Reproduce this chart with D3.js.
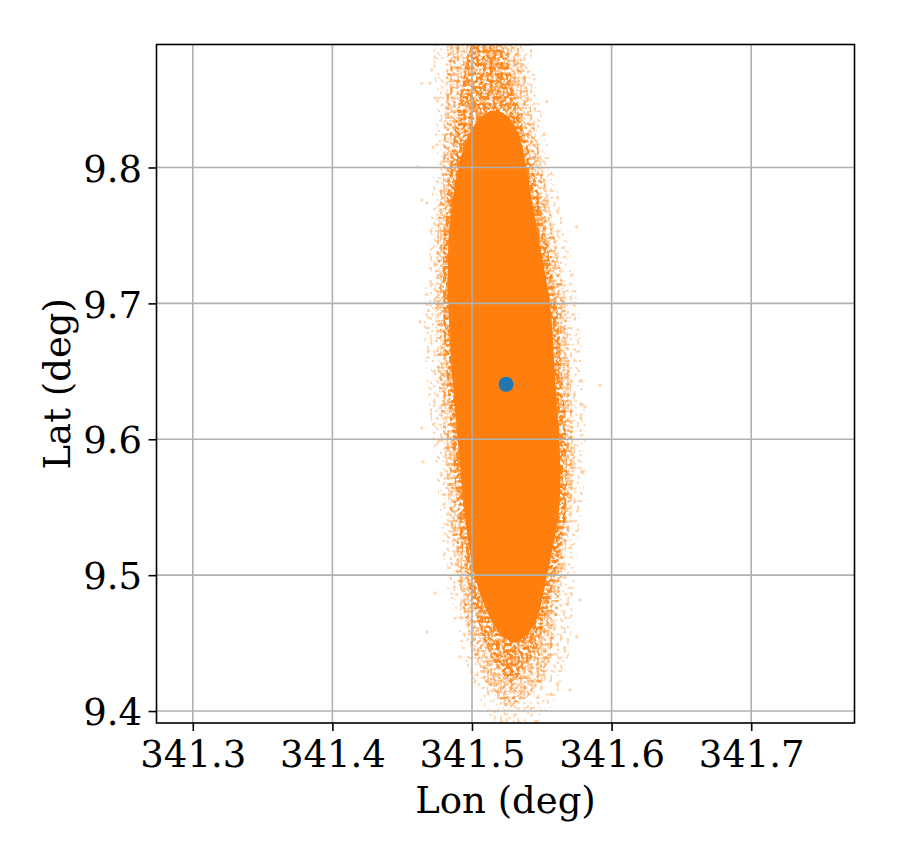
<!DOCTYPE html>
<html>
<head>
<meta charset="utf-8">
<script src="https://cdn.jsdelivr.net/npm/d3@7"></script>
<style>
  body { margin: 0; background: #ffffff; }
  text { font-family: "DejaVu Serif", serif; }
</style>
</head>
<body>
<svg id="chart" width="900" height="858"></svg>
<script>
// ---------------- data ----------------
const lonTicks = [341.3, 341.4, 341.5, 341.6, 341.7];
const latTicks = [9.4, 9.5, 9.6, 9.7, 9.8];
const lonDomain = [341.274, 341.774];
const latDomain = [9.3912, 9.8905];

// best-fit location (blue marker)
const bestLon = [341.5244];
const bestLat = [9.6404];

// orange sample cloud: outer (sparse) envelope
const outerLat  = [9.93, 9.90, 9.85, 9.80, 9.75, 9.70, 9.65, 9.60, 9.55, 9.50, 9.45, 9.42, 9.40, 9.385];
const outerWest = [341.476, 341.470, 341.4756, 341.4721, 341.4699, 341.4649, 341.4663, 341.4721, 341.4771, 341.4792, 341.4914, 341.500, 341.510, 341.522];
const outerEast = [341.536, 341.542, 341.5466, 341.5580, 341.5680, 341.5773, 341.5788, 341.5824, 341.5795, 341.5723, 341.5723, 341.565, 341.556, 341.540];

// medium-density envelope
const midLat  = [9.93, 9.90, 9.85, 9.80, 9.75, 9.70, 9.65, 9.60, 9.55, 9.50, 9.45, 9.42, 9.40];
const midWest = [341.485, 341.482, 341.481, 341.479, 341.4745, 341.4735, 341.4750, 341.4800, 341.4835, 341.4880, 341.4990, 341.5080, 341.527];
const midEast = [341.532, 341.534, 341.540, 341.551, 341.5590, 341.5680, 341.5700, 341.5735, 341.5725, 341.5640, 341.5590, 341.5530, 341.527];

// dense envelope around the core
const denseLat  = [9.905, 9.895, 9.87, 9.83, 9.80, 9.75, 9.70, 9.65, 9.60, 9.55, 9.50, 9.47, 9.44, 9.42];
const denseWest = [341.509, 341.500, 341.494, 341.488, 341.484, 341.479, 341.479, 341.481, 341.486, 341.489, 341.495, 341.503, 341.512, 341.528];
const denseEast = [341.511, 341.521, 341.528, 341.535, 341.545, 341.552, 341.562, 341.564, 341.568, 341.569, 341.560, 341.553, 341.546, 341.528];

// saturated core
const coreLat  = [9.842, 9.838, 9.825, 9.80, 9.75, 9.70, 9.65, 9.60, 9.55, 9.50, 9.48, 9.465, 9.455, 9.451];
const coreWest = [341.514, 341.506, 341.497, 341.4893, 341.4821, 341.4828, 341.4850, 341.4900, 341.4936, 341.5007, 341.508, 341.514, 341.521, 341.528];
const coreEast = [341.518, 341.527, 341.534, 341.5394, 341.5466, 341.5573, 341.5587, 341.5630, 341.5644, 341.5537, 341.550, 341.546, 341.539, 341.532];

// isolated outlying samples
const strayLon = [341.4711, 341.4640, 341.4699, 341.4735, 341.4640, 341.4676, 341.4721, 341.5535, 341.5750, 341.4613,
                  341.5917, 341.4628, 341.4649, 341.5810, 341.5795, 341.4640, 341.4676, 341.4735, 341.5774, 341.5750,
                  341.5702, 341.4914, 341.5249];
const strayLat = [9.8717, 9.8619, 9.8622, 9.8511, 9.7761, 9.7739, 9.8151, 9.8484, 9.7564, 9.8004,
                  9.6399, 9.6865, 9.5835, 9.6240, 9.5752, 9.6083, 9.4584, 9.4869, 9.4817, 9.4547,
                  9.4155, 9.4400, 9.3934];

// ---------------- drawing ----------------
const ORANGE = "#ff7f0e", BLUE = "#1f77b4", GRID = "#b0b0b0";
const FS = 37;
const plot = { left: 156.5, right: 854.5, top: 44.5, bottom: 723 };

const svg = d3.select("#chart");
const x = d3.scaleLinear().domain(lonDomain).range([plot.left, plot.right]);
const y = d3.scaleLinear().domain(latDomain).range([plot.bottom, plot.top]);

svg.append("rect").attr("width", 900).attr("height", 858).attr("fill", "#fff");

const defs = svg.append("defs");
defs.append("clipPath").attr("id", "plotclip")
  .append("rect")
  .attr("x", plot.left).attr("y", plot.top)
  .attr("width", plot.right - plot.left).attr("height", plot.bottom - plot.top);

// point-like speckle texture (styling only)
function speckle(id, freq, seed, thr) {
  const slope = 14;
  const f = defs.append("filter").attr("id", id)
    .attr("filterUnits", "userSpaceOnUse")
    .attr("x", plot.left).attr("y", plot.top)
    .attr("width", plot.right - plot.left).attr("height", plot.bottom - plot.top)
    .attr("color-interpolation-filters", "sRGB");
  f.append("feTurbulence").attr("type", "fractalNoise")
    .attr("baseFrequency", freq).attr("numOctaves", 1).attr("seed", seed).attr("result", "n");
  f.append("feColorMatrix").attr("in", "n").attr("type", "matrix")
    .attr("values", `0 0 0 0 0  0 0 0 0 0  0 0 0 0 0  ${slope} 0 0 0 ${-slope * thr}`)
    .attr("result", "m");
  f.append("feComposite").attr("in", "SourceGraphic").attr("in2", "m").attr("operator", "in");
}
speckle("spkA", 0.30, 3, 0.56);
speckle("spkB", 0.30, 11, 0.53);
speckle("spkC", 0.30, 27, 0.52);
speckle("spkD", 0.30, 41, 0.46);

const band = (lat, w, e) => lat.map((v, i) => ({ lat: v, w: w[i], e: e[i] }));
const area = d3.area()
  .y(d => y(d.lat)).x0(d => x(d.w)).x1(d => x(d.e))
  .curve(d3.curveBasis);

const cloud = svg.append("g").attr("clip-path", "url(#plotclip)");
const outer = band(outerLat, outerWest, outerEast);
const mid = band(midLat, midWest, midEast);
const dense = band(denseLat, denseWest, denseEast);
const core = band(coreLat, coreWest, coreEast);

cloud.selectAll("circle.stray").data(strayLon).join("circle")
  .attr("class", "stray")
  .attr("cx", d => x(d)).attr("cy", (d, i) => y(strayLat[i]))
  .attr("r", 1.7).attr("fill", ORANGE).attr("opacity", 0.3);

cloud.append("path").attr("d", area(outer)).attr("fill", ORANGE)
  .attr("filter", "url(#spkA)").attr("opacity", 0.32);
cloud.append("path").attr("d", area(mid)).attr("fill", ORANGE)
  .attr("filter", "url(#spkB)").attr("opacity", 0.45);
cloud.append("path").attr("d", area(mid)).attr("fill", ORANGE)
  .attr("filter", "url(#spkC)").attr("opacity", 0.45);
cloud.append("path").attr("d", area(dense)).attr("fill", ORANGE)
  .attr("filter", "url(#spkD)").attr("opacity", 0.85);
cloud.append("path").attr("d", area(core)).attr("fill", ORANGE);

// grid (drawn over the cloud, as in the reference)
const grid = svg.append("g").attr("clip-path", "url(#plotclip)");
grid.selectAll("line.vx").data(lonTicks).join("line")
  .attr("x1", d => x(d)).attr("x2", d => x(d))
  .attr("y1", plot.top).attr("y2", plot.bottom)
  .attr("stroke", GRID).attr("stroke-width", 1.6);
grid.selectAll("line.hy").data(latTicks).join("line")
  .attr("y1", d => y(d)).attr("y2", d => y(d))
  .attr("x1", plot.left).attr("x2", plot.right)
  .attr("stroke", GRID).attr("stroke-width", 1.6);

// best-fit marker
svg.append("g").selectAll("circle").data(bestLon).join("circle")
  .attr("cx", d => x(d)).attr("cy", (d, i) => y(bestLat[i]))
  .attr("r", 7.5).attr("fill", BLUE);

// axes
const xAxis = d3.axisBottom(x).tickValues(lonTicks).tickFormat(d3.format(".1f"))
  .tickSize(8).tickPadding(9.5);
const gx = svg.append("g").attr("transform", `translate(0,${plot.bottom})`).call(xAxis);
const yAxis = d3.axisLeft(y).tickValues(latTicks).tickFormat(d3.format(".1f"))
  .tickSize(8).tickPadding(6.5);
const gy = svg.append("g").attr("transform", `translate(${plot.left},0)`).call(yAxis);
[gx, gy].forEach(g => {
  g.select(".domain").remove();
  g.selectAll(".tick line").attr("stroke", "#000").attr("stroke-width", 1.6);
  g.selectAll(".tick text").attr("fill", "#000")
    .style("font-family", '"DejaVu Serif", serif').style("font-size", FS + "px");
});
gy.selectAll(".tick text").attr("dy", "0.37em");

// frame
svg.append("rect")
  .attr("x", plot.left).attr("y", plot.top)
  .attr("width", plot.right - plot.left).attr("height", plot.bottom - plot.top)
  .attr("fill", "none").attr("stroke", "#000").attr("stroke-width", 1.6);

// axis labels
svg.append("text").attr("x", (plot.left + plot.right) / 2).attr("y", 813)
  .attr("text-anchor", "middle").style("font-size", FS + "px").attr("fill", "#000")
  .text("Lon (deg)");
svg.append("text")
  .attr("transform", `translate(70,${(plot.top + plot.bottom) / 2}) rotate(-90)`)
  .attr("text-anchor", "middle").style("font-size", FS + "px").attr("fill", "#000")
  .text("Lat (deg)");
</script>
</body>
</html>
